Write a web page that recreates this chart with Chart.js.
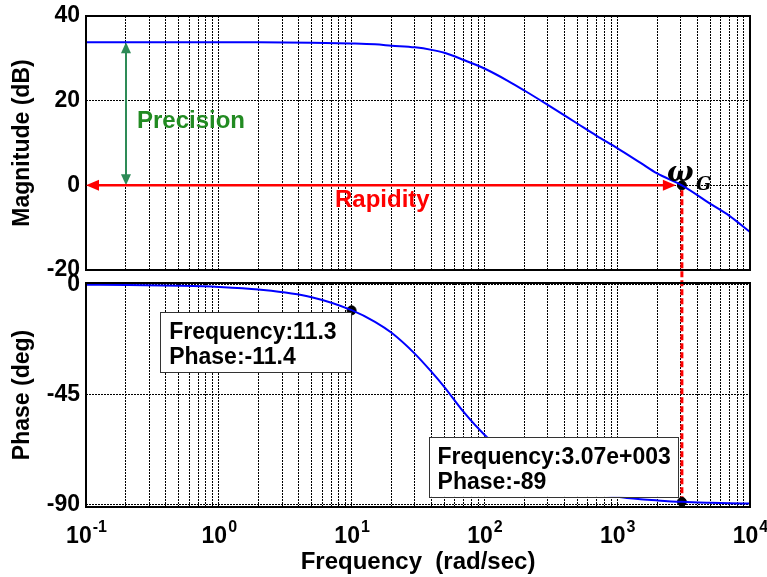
<!DOCTYPE html>
<html>
<head>
<meta charset="utf-8">
<script src="https://cdn.jsdelivr.net/npm/chart.js@4.4.1/dist/chart.umd.min.js"></script>
<style>
html, body { margin: 0; padding: 0; background: #fff; }
#wrap { position: relative; width: 767px; height: 577px; }
#wrap canvas { position: absolute; left: 0; top: 0; }
</style>
</head>
<body>
<div id="wrap">
<canvas id="magChart" width="767" height="577"></canvas>
<canvas id="phaseChart" width="767" height="577"></canvas>
</div>
<script>
var freqs    = [0.1, 0.2, 0.5, 1, 2, 5, 10, 15, 20, 30, 40, 50, 70, 100, 150, 200, 300, 500, 700, 1000, 1500, 2000, 3070, 5000, 7000, 10000];
var magDb    = [33.8, 33.8, 33.8, 33.8, 33.8, 33.7, 33.5, 33.3, 33.0, 32.6, 32.0, 31.3, 29.6, 27.6, 24.7, 22.4, 19.0, 14.6, 11.7, 8.8, 5.3, 2.8, 0, -4.3, -7.2, -11.0];
var phaseDeg = [-0.1, -0.2, -0.5, -1.0, -2.1, -5.2, -10.5, -15.3, -19.8, -28.4, -35.8, -42.0, -52.3, -61.5, -69.6, -74.4, -79.5, -83.7, -85.5, -86.9, -87.9, -88.4, -89.0, -89.4, -89.6, -89.7];
var magTicks = [40, 20, 0, -20];
var phaseTicks = [0, -45, -90];
var decades = [-1, 0, 1, 2, 3, 4];
var precisionFreq = 0.2;
var dcGain = 33.8;
var crossFreq = 3070;
var crossPhase = -89;
var tipFreq = 10;
var tipPhase = -10.6;
var tip1Text = ['Frequency:11.3', 'Phase:-11.4'];
var tip2Text = ['Frequency:3.07e+003', 'Phase:-89'];

var FONT = "'Liberation Sans', Arial, sans-serif";

// lignes de grille : 1..9 par décade
var gridFreqs = [];
decades.forEach(function(d) {
    for (var m = 1; m <= 9; m++) {
        if (d === 4 && m > 1) break;
        gridFreqs.push(m * Math.pow(10, d));
    }
});

function pts(xs, ys) {
    return xs.map(function(x, i) { return {x: x, y: ys[i]}; });
}

function xScale(showHeight) {
    return {
        type: 'logarithmic', min: 0.1, max: 10000,
        afterBuildTicks: function(s) { s.ticks = gridFreqs.map(function(v) { return {value: v}; }); },
        afterFit: function(s) { s.height = showHeight; s.paddingLeft = 0; s.paddingRight = 0; },
        ticks: {display: false},
        grid: {color: '#000', lineWidth: 1, drawTicks: false},
        border: {display: false, dash: [2, 1]}
    };
}

function yScale(min, max, tickVals) {
    return {
        min: min, max: max,
        afterBuildTicks: function(s) { s.ticks = tickVals.map(function(v) { return {value: v}; }); },
        afterFit: function(s) { s.width = 86; s.paddingTop = 0; s.paddingBottom = 0; },
        ticks: {color: '#000', padding: 6, font: {family: FONT, size: 23, weight: 'bold'}},
        grid: {color: '#000', lineWidth: 1, drawTicks: false},
        border: {display: false, dash: [2, 1]}
    };
}

function arrowHead(ctx, x, y, ang, len, half) {
    var c = Math.cos(ang), s = Math.sin(ang);
    ctx.beginPath();
    ctx.moveTo(x, y);
    ctx.lineTo(x - len * c + half * s, y - len * s - half * c);
    ctx.lineTo(x - len * c - half * s, y - len * s + half * c);
    ctx.closePath();
    ctx.fill();
}

function frame(chart) {
    var a = chart.chartArea, ctx = chart.ctx;
    ctx.save();
    ctx.strokeStyle = '#000';
    ctx.lineWidth = 2;
    ctx.strokeRect(a.left, a.top, a.right - a.left, a.bottom - a.top);
    ctx.restore();
}

function yTitle(chart, text) {
    var a = chart.chartArea, ctx = chart.ctx;
    ctx.save();
    ctx.translate(23, (a.top + a.bottom) / 2);
    ctx.rotate(-Math.PI / 2);
    ctx.font = 'bold 23px ' + FONT;
    ctx.fillStyle = '#000';
    ctx.textAlign = 'center';
    ctx.textBaseline = 'middle';
    ctx.fillText(text, 0, 0);
    ctx.restore();
}

function tipWidth(ctx, lines, padRight) {
    ctx.save();
    ctx.font = 'bold 23px ' + FONT;
    var w = Math.max(ctx.measureText(lines[0]).width, ctx.measureText(lines[1]).width);
    ctx.restore();
    return w + 9 + padRight;
}

function dataTip(ctx, left, top, width, lines) {
    ctx.save();
    ctx.fillStyle = '#fff';
    ctx.fillRect(left, top, width, 60);
    ctx.strokeStyle = '#333';
    ctx.lineWidth = 1;
    ctx.strokeRect(Math.round(left) + 0.5, Math.round(top) + 0.5, Math.round(width), 60);
    ctx.font = 'bold 23px ' + FONT;
    ctx.fillStyle = '#000';
    ctx.textBaseline = 'alphabetic';
    ctx.fillText(lines[0], left + 9, top + 27);
    ctx.fillText(lines[1], left + 9, top + 52);
    ctx.restore();
}

var magChart = new Chart(document.getElementById('magChart').getContext('2d'), {
    type: 'scatter',
    data: {
        datasets: [{
            data: pts(freqs, magDb),
            showLine: true, borderColor: 'rgb(0,0,255)', borderWidth: 2,
            pointRadius: 0, cubicInterpolationMode: 'monotone'
        }, {
            data: [{x: crossFreq, y: 0}],
            pointRadius: 4.5, pointBackgroundColor: '#000', pointBorderColor: '#000'
        }]
    },
    options: {
        responsive: false, animation: false,
        layout: {padding: {top: 16, right: 17, bottom: 307, left: 0}},
        plugins: {legend: {display: false}, tooltip: {enabled: false}},
        scales: {x: xScale(0), y: yScale(-20, 40, magTicks)}
    },
    plugins: [{
        id: 'magDeco',
        afterDraw: function(chart) {
            var ctx = chart.ctx, xs = chart.scales.x, ys = chart.scales.y;
            frame(chart);
            yTitle(chart, 'Magnitude (dB)');
            var y0 = ys.getPixelForValue(0);
            // Précision : flèche verte
            var gx = xs.getPixelForValue(precisionFreq);
            var gTop = ys.getPixelForValue(dcGain);
            ctx.save();
            ctx.strokeStyle = 'rgb(46,139,87)';
            ctx.fillStyle = 'rgb(46,139,87)';
            ctx.lineWidth = 2;
            ctx.beginPath();
            ctx.moveTo(gx, gTop + 6);
            ctx.lineTo(gx, y0 - 6);
            ctx.stroke();
            arrowHead(ctx, gx, gTop, -Math.PI / 2, 11, 5);
            arrowHead(ctx, gx, y0, Math.PI / 2, 11, 5);
            ctx.font = 'bold 24px ' + FONT;
            ctx.fillStyle = 'rgb(34,139,34)';
            ctx.textBaseline = 'middle';
            ctx.fillText('Precision', gx + 11, ys.getPixelForValue(15));
            // Rapidité : flèche rouge
            var cx = xs.getPixelForValue(crossFreq);
            ctx.strokeStyle = 'rgb(255,0,0)';
            ctx.fillStyle = 'rgb(255,0,0)';
            ctx.lineWidth = 2.5;
            ctx.beginPath();
            ctx.moveTo(xs.left + 8, y0);
            ctx.lineTo(cx - 14, y0);
            ctx.stroke();
            arrowHead(ctx, xs.left, y0, Math.PI, 13, 5.5);
            arrowHead(ctx, cx - 6, y0, 0, 13, 5.5);
            ctx.fillText('Rapidity', 335, y0 + 15);
            // omega_G
            ctx.fillStyle = '#000';
            ctx.textBaseline = 'alphabetic';
            ctx.font = 'bold italic 28px "DejaVu Serif", serif';
            ctx.fillText('\u03C9', cx - 15, y0 - 4);
            ctx.font = 'bold italic 18px "DejaVu Serif", serif';
            ctx.fillText('G', cx + 14, y0 + 5);
            ctx.restore();
        }
    }]
});

var phaseChart = new Chart(document.getElementById('phaseChart').getContext('2d'), {
    type: 'scatter',
    data: {
        datasets: [{
            data: pts(freqs, phaseDeg),
            showLine: true, borderColor: 'rgb(0,0,255)', borderWidth: 2,
            pointRadius: 0, cubicInterpolationMode: 'monotone'
        }, {
            data: [{x: tipFreq, y: tipPhase}, {x: crossFreq, y: crossPhase}],
            pointRadius: 4.5, pointBackgroundColor: '#000', pointBorderColor: '#000'
        }]
    },
    options: {
        responsive: false, animation: false,
        layout: {padding: {top: 283, right: 17, bottom: 0, left: 0}},
        plugins: {legend: {display: false}, tooltip: {enabled: false}},
        scales: {x: xScale(70), y: yScale(-91.1, 0.6, phaseTicks)}
    },
    plugins: [{
        id: 'phaseDeco',
        beforeDatasetsDraw: function(chart) {
            // trait pointillé rouge entre les deux tracés
            var ctx = chart.ctx;
            var cx = chart.scales.x.getPixelForValue(crossFreq);
            var yTop = magChart.scales.y.getPixelForValue(0) + 5;
            var yBot = chart.scales.y.getPixelForValue(crossPhase);
            ctx.save();
            ctx.strokeStyle = 'rgb(255,0,0)';
            ctx.lineWidth = 3;
            ctx.setLineDash([6, 3]);
            ctx.beginPath();
            ctx.moveTo(cx, yTop);
            ctx.lineTo(cx, yBot);
            ctx.stroke();
            ctx.restore();
        },
        afterDraw: function(chart) {
            var ctx = chart.ctx, xs = chart.scales.x, ys = chart.scales.y;
            frame(chart);
            yTitle(chart, 'Phase (deg)');
            // étiquettes 10^n
            ctx.save();
            ctx.fillStyle = '#000';
            ctx.textBaseline = 'alphabetic';
            decades.forEach(function(d) {
                var x = xs.getPixelForValue(Math.pow(10, d));
                ctx.font = 'bold 23px ' + FONT;
                var wb = ctx.measureText('10').width;
                ctx.font = 'bold 16px ' + FONT;
                var we = ctx.measureText(String(d)).width;
                var left = x - (wb + we) / 2;
                ctx.font = 'bold 23px ' + FONT;
                ctx.fillText('10', left, 543);
                ctx.font = 'bold 16px ' + FONT;
                ctx.fillText(String(d), left + wb + 1, 532);
            });
            ctx.font = 'bold 24px ' + FONT;
            ctx.textAlign = 'center';
            ctx.fillText('Frequency  (rad/sec)', (xs.left + xs.right) / 2, 569);
            ctx.restore();
            // bulles de données
            var m1x = xs.getPixelForValue(tipFreq), m1y = ys.getPixelForValue(tipPhase);
            var w1 = tipWidth(ctx, tip1Text, 15);
            dataTip(ctx, m1x - w1, m1y + 2, w1, tip1Text);
            var m2x = xs.getPixelForValue(crossFreq), m2y = ys.getPixelForValue(crossPhase);
            var w2 = tipWidth(ctx, tip2Text, 7);
            dataTip(ctx, m2x - 4 - w2, m2y - 65, w2, tip2Text);
        }
    }]
});
</script>
</body>
</html>
